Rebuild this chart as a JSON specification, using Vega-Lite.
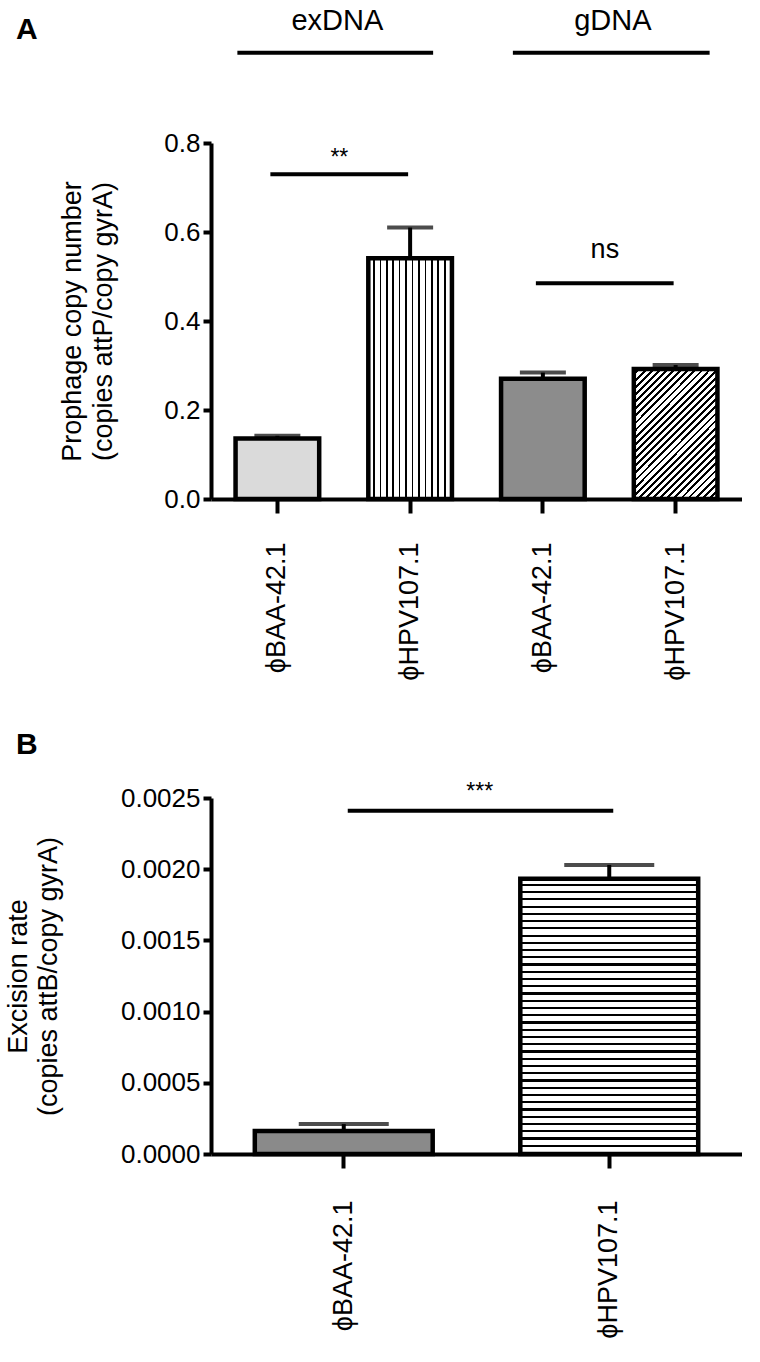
{
  "$schema": "https://vega.github.io/schema/vega-lite/v6.json",
  "background": "white",
  "padding": {"left": 4, "top": 6, "right": 0, "bottom": 0},
  "config": {
    "view": {"stroke": null},
    "font": "Liberation Sans",
    "axis": {"domainColor": "black", "domainWidth": 4, "tickColor": "black", "tickWidth": 4, "grid": false,
      "labelFont": "Liberation Sans", "labelFontSize": 26, "labelColor": "black",
      "titleFont": "Liberation Sans", "titleFontSize": 27, "titleFontWeight": "normal", "titleColor": "black"},
    "title": {"font": "Liberation Sans", "fontSize": 30, "fontWeight": "bold", "color": "black", "anchor": "start", "frame": "group"},
    "text": {"font": "Liberation Sans", "color": "black"}
  },
  "datasets": {
    "a": [
      {"id": "ϕBAA-42.1|ex", "group": "exDNA", "value": 0.136, "upper": 0.142},
      {"id": "ϕHPV107.1|ex", "group": "exDNA", "value": 0.541, "upper": 0.61},
      {"id": "ϕBAA-42.1|g", "group": "gDNA", "value": 0.27, "upper": 0.284},
      {"id": "ϕHPV107.1|g", "group": "gDNA", "value": 0.292, "upper": 0.301}
    ],
    "aSig": [
      {"from": "ϕBAA-42.1|ex", "to": "ϕHPV107.1|ex", "y": 0.73, "ty": 0.75, "label": "**"},
      {"from": "ϕBAA-42.1|g", "to": "ϕHPV107.1|g", "y": 0.485, "ty": 0.542, "label": "ns"}
    ],
    "aGroup": [
      {"from": "ϕBAA-42.1|ex", "to": "ϕHPV107.1|ex", "y": 1.003, "ty": 1.055, "label": "exDNA"},
      {"from": "ϕBAA-42.1|g", "to": "ϕHPV107.1|g", "y": 1.003, "ty": 1.055, "label": "gDNA"}
    ],
    "b": [
      {"id": "ϕBAA-42.1", "value": 0.000161, "upper": 0.00021},
      {"id": "ϕHPV107.1", "value": 0.001933, "upper": 0.00203}
    ],
    "bSig": [
      {"from": "ϕBAA-42.1", "to": "ϕHPV107.1", "y": 0.00241, "ty": 0.00249, "label": "***"}
    ]
  },
  "spacing": 49,
  "vconcat": [
    {
      "width": 531,
      "height": 356,
      "title": {"text": "A", "dx": -195, "dy": 42},
      "layer": [
        {
          "data": {"name": "a"},
          "mark": {"type": "rule", "strokeWidth": 4, "color": "black"},
          "encoding": {
            "x": {"field": "id", "type": "nominal",
              "scale": {"domain": ["ϕBAA-42.1|ex", "ϕHPV107.1|ex", "ϕBAA-42.1|g", "ϕHPV107.1|g"], "paddingInner": 0.37, "paddingOuter": 0.185},
              "axis": {"title": null, "labelAngle": -90, "labelAlign": "right", "labelBaseline": "middle", "labelPadding": 29, "labelFontSize": 27, "tickSize": 14, "labelExpr": "split(datum.value, '|')[0]"}},
            "y": {"field": "value", "type": "quantitative", "scale": {"domain": [0, 0.8]},
              "axis": {"values": [0, 0.2, 0.4, 0.6, 0.8], "format": ".1f", "tickSize": 8, "labelPadding": 3,
                "title": ["Prophage copy number", "(copies attP/copy gyrA)"], "titlePadding": 46, "titleLineHeight": 31}},
            "y2": {"field": "upper"}
          }
        },
        {
          "data": {"name": "a"},
          "mark": {"type": "tick", "size": 46, "thickness": 4, "color": "black"},
          "encoding": {
            "x": {"field": "id", "type": "nominal", "scale": {"domain": ["ϕBAA-42.1|ex", "ϕHPV107.1|ex", "ϕBAA-42.1|g", "ϕHPV107.1|g"]}},
            "y": {"field": "upper", "type": "quantitative", "scale": {"domain": [0, 0.8]}}
          }
        },
        {
          "data": {"name": "a"},
          "transform": [{"filter": "datum.id === 'ϕBAA-42.1|ex'"}],
          "mark": {"type": "bar", "stroke": "black", "strokeWidth": 4.5, "fill": "#dadada"},
          "encoding": {
            "x": {"field": "id", "type": "nominal", "scale": {"domain": ["ϕBAA-42.1|ex", "ϕHPV107.1|ex", "ϕBAA-42.1|g", "ϕHPV107.1|g"]}},
            "y": {"field": "value", "type": "quantitative", "scale": {"domain": [0, 0.8]}}
          }
        },
        {
          "data": {"name": "a"},
          "transform": [{"filter": "datum.id === 'ϕHPV107.1|ex'"}],
          "mark": {"type": "bar", "stroke": "black", "strokeWidth": 4.5,
            "fill": {"gradient": "linear", "x1": 0, "y1": 0, "x2": 1, "y2": 0, "stops": [
              {"offset": 0, "color": "white"},
              {"offset": 0.0577, "color": "white"}, {"offset": 0.0577, "color": "black"}, {"offset": 0.0769, "color": "black"}, {"offset": 0.0769, "color": "white"},
              {"offset": 0.1346, "color": "white"}, {"offset": 0.1346, "color": "black"}, {"offset": 0.1538, "color": "black"}, {"offset": 0.1538, "color": "white"},
              {"offset": 0.2115, "color": "white"}, {"offset": 0.2115, "color": "black"}, {"offset": 0.2308, "color": "black"}, {"offset": 0.2308, "color": "white"},
              {"offset": 0.2885, "color": "white"}, {"offset": 0.2885, "color": "black"}, {"offset": 0.3077, "color": "black"}, {"offset": 0.3077, "color": "white"},
              {"offset": 0.3654, "color": "white"}, {"offset": 0.3654, "color": "black"}, {"offset": 0.3846, "color": "black"}, {"offset": 0.3846, "color": "white"},
              {"offset": 0.4423, "color": "white"}, {"offset": 0.4423, "color": "black"}, {"offset": 0.4615, "color": "black"}, {"offset": 0.4615, "color": "white"},
              {"offset": 0.5192, "color": "white"}, {"offset": 0.5192, "color": "black"}, {"offset": 0.5385, "color": "black"}, {"offset": 0.5385, "color": "white"},
              {"offset": 0.5962, "color": "white"}, {"offset": 0.5962, "color": "black"}, {"offset": 0.6154, "color": "black"}, {"offset": 0.6154, "color": "white"},
              {"offset": 0.6731, "color": "white"}, {"offset": 0.6731, "color": "black"}, {"offset": 0.6923, "color": "black"}, {"offset": 0.6923, "color": "white"},
              {"offset": 0.75, "color": "white"}, {"offset": 0.75, "color": "black"}, {"offset": 0.7692, "color": "black"}, {"offset": 0.7692, "color": "white"},
              {"offset": 0.8269, "color": "white"}, {"offset": 0.8269, "color": "black"}, {"offset": 0.8462, "color": "black"}, {"offset": 0.8462, "color": "white"},
              {"offset": 0.9038, "color": "white"}, {"offset": 0.9038, "color": "black"}, {"offset": 0.9231, "color": "black"}, {"offset": 0.9231, "color": "white"},
              {"offset": 0.9808, "color": "white"}, {"offset": 0.9808, "color": "black"}, {"offset": 1, "color": "black"}
            ]}},
          "encoding": {
            "x": {"field": "id", "type": "nominal", "scale": {"domain": ["ϕBAA-42.1|ex", "ϕHPV107.1|ex", "ϕBAA-42.1|g", "ϕHPV107.1|g"]}},
            "y": {"field": "value", "type": "quantitative", "scale": {"domain": [0, 0.8]}}
          }
        },
        {
          "data": {"name": "a"},
          "transform": [{"filter": "datum.id === 'ϕBAA-42.1|g'"}],
          "mark": {"type": "bar", "stroke": "black", "strokeWidth": 4.5, "fill": "#8c8c8c"},
          "encoding": {
            "x": {"field": "id", "type": "nominal", "scale": {"domain": ["ϕBAA-42.1|ex", "ϕHPV107.1|ex", "ϕBAA-42.1|g", "ϕHPV107.1|g"]}},
            "y": {"field": "value", "type": "quantitative", "scale": {"domain": [0, 0.8]}}
          }
        },
        {
          "data": {"name": "a"},
          "transform": [{"filter": "datum.id === 'ϕHPV107.1|g'"}],
          "mark": {"type": "bar", "stroke": "black", "strokeWidth": 4.5,
            "fill": {"gradient": "linear", "x1": 0, "y1": 0, "x2": 0.75, "y2": 1.161, "stops": [
              {"offset": 0, "color": "white"},
              {"offset": 0.02, "color": "white"}, {"offset": 0.02, "color": "black"}, {"offset": 0.0333, "color": "black"}, {"offset": 0.0333, "color": "white"},
              {"offset": 0.0533, "color": "white"}, {"offset": 0.0533, "color": "black"}, {"offset": 0.0667, "color": "black"}, {"offset": 0.0667, "color": "white"},
              {"offset": 0.0867, "color": "white"}, {"offset": 0.0867, "color": "black"}, {"offset": 0.1, "color": "black"}, {"offset": 0.1, "color": "white"},
              {"offset": 0.12, "color": "white"}, {"offset": 0.12, "color": "black"}, {"offset": 0.1333, "color": "black"}, {"offset": 0.1333, "color": "white"},
              {"offset": 0.1533, "color": "white"}, {"offset": 0.1533, "color": "black"}, {"offset": 0.1667, "color": "black"}, {"offset": 0.1667, "color": "white"},
              {"offset": 0.1867, "color": "white"}, {"offset": 0.1867, "color": "black"}, {"offset": 0.2, "color": "black"}, {"offset": 0.2, "color": "white"},
              {"offset": 0.22, "color": "white"}, {"offset": 0.22, "color": "black"}, {"offset": 0.2333, "color": "black"}, {"offset": 0.2333, "color": "white"},
              {"offset": 0.2533, "color": "white"}, {"offset": 0.2533, "color": "black"}, {"offset": 0.2667, "color": "black"}, {"offset": 0.2667, "color": "white"},
              {"offset": 0.2867, "color": "white"}, {"offset": 0.2867, "color": "black"}, {"offset": 0.3, "color": "black"}, {"offset": 0.3, "color": "white"},
              {"offset": 0.32, "color": "white"}, {"offset": 0.32, "color": "black"}, {"offset": 0.3333, "color": "black"}, {"offset": 0.3333, "color": "white"},
              {"offset": 0.3533, "color": "white"}, {"offset": 0.3533, "color": "black"}, {"offset": 0.3667, "color": "black"}, {"offset": 0.3667, "color": "white"},
              {"offset": 0.3867, "color": "white"}, {"offset": 0.3867, "color": "black"}, {"offset": 0.4, "color": "black"}, {"offset": 0.4, "color": "white"},
              {"offset": 0.42, "color": "white"}, {"offset": 0.42, "color": "black"}, {"offset": 0.4333, "color": "black"}, {"offset": 0.4333, "color": "white"},
              {"offset": 0.4533, "color": "white"}, {"offset": 0.4533, "color": "black"}, {"offset": 0.4667, "color": "black"}, {"offset": 0.4667, "color": "white"},
              {"offset": 0.4867, "color": "white"}, {"offset": 0.4867, "color": "black"}, {"offset": 0.5, "color": "black"}, {"offset": 0.5, "color": "white"},
              {"offset": 0.52, "color": "white"}, {"offset": 0.52, "color": "black"}, {"offset": 0.5333, "color": "black"}, {"offset": 0.5333, "color": "white"},
              {"offset": 0.5533, "color": "white"}, {"offset": 0.5533, "color": "black"}, {"offset": 0.5667, "color": "black"}, {"offset": 0.5667, "color": "white"},
              {"offset": 0.5867, "color": "white"}, {"offset": 0.5867, "color": "black"}, {"offset": 0.6, "color": "black"}, {"offset": 0.6, "color": "white"},
              {"offset": 0.62, "color": "white"}, {"offset": 0.62, "color": "black"}, {"offset": 0.6333, "color": "black"}, {"offset": 0.6333, "color": "white"},
              {"offset": 0.6533, "color": "white"}, {"offset": 0.6533, "color": "black"}, {"offset": 0.6667, "color": "black"}, {"offset": 0.6667, "color": "white"},
              {"offset": 0.6867, "color": "white"}, {"offset": 0.6867, "color": "black"}, {"offset": 0.7, "color": "black"}, {"offset": 0.7, "color": "white"},
              {"offset": 0.72, "color": "white"}, {"offset": 0.72, "color": "black"}, {"offset": 0.7333, "color": "black"}, {"offset": 0.7333, "color": "white"},
              {"offset": 0.7533, "color": "white"}, {"offset": 0.7533, "color": "black"}, {"offset": 0.7667, "color": "black"}, {"offset": 0.7667, "color": "white"},
              {"offset": 0.7867, "color": "white"}, {"offset": 0.7867, "color": "black"}, {"offset": 0.8, "color": "black"}, {"offset": 0.8, "color": "white"},
              {"offset": 0.82, "color": "white"}, {"offset": 0.82, "color": "black"}, {"offset": 0.8333, "color": "black"}, {"offset": 0.8333, "color": "white"},
              {"offset": 0.8533, "color": "white"}, {"offset": 0.8533, "color": "black"}, {"offset": 0.8667, "color": "black"}, {"offset": 0.8667, "color": "white"},
              {"offset": 0.8867, "color": "white"}, {"offset": 0.8867, "color": "black"}, {"offset": 0.9, "color": "black"}, {"offset": 0.9, "color": "white"},
              {"offset": 0.92, "color": "white"}, {"offset": 0.92, "color": "black"}, {"offset": 0.9333, "color": "black"}, {"offset": 0.9333, "color": "white"},
              {"offset": 0.9533, "color": "white"}, {"offset": 0.9533, "color": "black"}, {"offset": 0.9667, "color": "black"}, {"offset": 0.9667, "color": "white"},
              {"offset": 0.9867, "color": "white"}, {"offset": 0.9867, "color": "black"}, {"offset": 1, "color": "black"}
            ]}},
          "encoding": {
            "x": {"field": "id", "type": "nominal", "scale": {"domain": ["ϕBAA-42.1|ex", "ϕHPV107.1|ex", "ϕBAA-42.1|g", "ϕHPV107.1|g"]}},
            "y": {"field": "value", "type": "quantitative", "scale": {"domain": [0, 0.8]}}
          }
        },
        {
          "data": {"name": "aSig"},
          "mark": {"type": "rule", "strokeWidth": 4, "color": "black", "xOffset": -7, "x2Offset": -2},
          "encoding": {
            "x": {"field": "from", "type": "nominal", "scale": {"domain": ["ϕBAA-42.1|ex", "ϕHPV107.1|ex", "ϕBAA-42.1|g", "ϕHPV107.1|g"]}},
            "x2": {"field": "to"},
            "y": {"field": "y", "type": "quantitative", "scale": {"domain": [0, 0.8]}}
          }
        },
        {
          "data": {"name": "aSig"},
          "mark": {"type": "text", "xOffset": 62, "baseline": "alphabetic", "align": "center"},
          "encoding": {
            "x": {"field": "from", "type": "nominal", "scale": {"domain": ["ϕBAA-42.1|ex", "ϕHPV107.1|ex", "ϕBAA-42.1|g", "ϕHPV107.1|g"]}},
            "y": {"field": "ty", "type": "quantitative", "scale": {"domain": [0, 0.8]}},
            "text": {"field": "label"},
            "size": {"condition": {"test": "datum.label === 'ns'", "value": 27}, "value": 23}
          }
        },
        {
          "data": {"name": "aGroup"},
          "transform": [{"filter": "datum.label === 'exDNA'"}],
          "mark": {"type": "rule", "strokeWidth": 4, "color": "black", "xOffset": -40, "x2Offset": 23},
          "encoding": {
            "x": {"field": "from", "type": "nominal", "scale": {"domain": ["ϕBAA-42.1|ex", "ϕHPV107.1|ex", "ϕBAA-42.1|g", "ϕHPV107.1|g"]}},
            "x2": {"field": "to"},
            "y": {"field": "y", "type": "quantitative", "scale": {"domain": [0, 0.8]}}
          }
        },
        {
          "data": {"name": "aGroup"},
          "transform": [{"filter": "datum.label === 'gDNA'"}],
          "mark": {"type": "rule", "strokeWidth": 4, "color": "black", "xOffset": -30, "x2Offset": 34},
          "encoding": {
            "x": {"field": "from", "type": "nominal", "scale": {"domain": ["ϕBAA-42.1|ex", "ϕHPV107.1|ex", "ϕBAA-42.1|g", "ϕHPV107.1|g"]}},
            "x2": {"field": "to"},
            "y": {"field": "y", "type": "quantitative", "scale": {"domain": [0, 0.8]}}
          }
        },
        {
          "data": {"name": "aGroup"},
          "transform": [{"filter": "datum.label === 'exDNA'"}],
          "mark": {"type": "text", "xOffset": 60, "baseline": "alphabetic", "align": "center", "fontSize": 29},
          "encoding": {
            "x": {"field": "from", "type": "nominal", "scale": {"domain": ["ϕBAA-42.1|ex", "ϕHPV107.1|ex", "ϕBAA-42.1|g", "ϕHPV107.1|g"]}},
            "y": {"field": "ty", "type": "quantitative", "scale": {"domain": [0, 0.8]}},
            "text": {"field": "label"}
          }
        },
        {
          "data": {"name": "aGroup"},
          "transform": [{"filter": "datum.label === 'gDNA'"}],
          "mark": {"type": "text", "xOffset": 70, "baseline": "alphabetic", "align": "center", "fontSize": 29},
          "encoding": {
            "x": {"field": "from", "type": "nominal", "scale": {"domain": ["ϕBAA-42.1|ex", "ϕHPV107.1|ex", "ϕBAA-42.1|g", "ϕHPV107.1|g"]}},
            "y": {"field": "ty", "type": "quantitative", "scale": {"domain": [0, 0.8]}},
            "text": {"field": "label"}
          }
        }
      ]
    },
    {
      "width": 531,
      "height": 356,
      "title": {"text": "B", "dx": -195, "dy": -17},
      "layer": [
        {
          "data": {"name": "b"},
          "mark": {"type": "rule", "strokeWidth": 4, "color": "black"},
          "encoding": {
            "x": {"field": "id", "type": "nominal",
              "scale": {"domain": ["ϕBAA-42.1", "ϕHPV107.1"], "paddingInner": 0.33, "paddingOuter": 0.165},
              "axis": {"title": null, "labelAngle": -90, "labelAlign": "right", "labelBaseline": "middle", "labelPadding": 32, "labelFontSize": 27, "tickSize": 14}},
            "y": {"field": "value", "type": "quantitative", "scale": {"domain": [0, 0.0025]},
              "axis": {"values": [0, 0.0005, 0.001, 0.0015, 0.002, 0.0025], "format": ".4f", "tickSize": 8, "labelPadding": 3,
                "title": ["Excision rate", "(copies attB/copy gyrA)"], "titlePadding": 58, "titleLineHeight": 30}},
            "y2": {"field": "upper"}
          }
        },
        {
          "data": {"name": "b"},
          "mark": {"type": "tick", "size": 90, "thickness": 4, "color": "black"},
          "encoding": {
            "x": {"field": "id", "type": "nominal", "scale": {"domain": ["ϕBAA-42.1", "ϕHPV107.1"]}},
            "y": {"field": "upper", "type": "quantitative", "scale": {"domain": [0, 0.0025]}}
          }
        },
        {
          "data": {"name": "b"},
          "transform": [{"filter": "datum.id === 'ϕBAA-42.1'"}],
          "mark": {"type": "bar", "stroke": "black", "strokeWidth": 4.5, "fill": "#8a8a8a"},
          "encoding": {
            "x": {"field": "id", "type": "nominal", "scale": {"domain": ["ϕBAA-42.1", "ϕHPV107.1"]}},
            "y": {"field": "value", "type": "quantitative", "scale": {"domain": [0, 0.0025]}}
          }
        },
        {
          "data": {"name": "b"},
          "transform": [{"filter": "datum.id === 'ϕHPV107.1'"}],
          "mark": {"type": "bar", "stroke": "black", "strokeWidth": 4.5,
            "fill": {"gradient": "linear", "x1": 0, "y1": 0, "x2": 0, "y2": 1, "stops": [
              {"offset": 0, "color": "white"},
              {"offset": 0.0184, "color": "white"}, {"offset": 0.0184, "color": "black"}, {"offset": 0.0263, "color": "black"}, {"offset": 0.0263, "color": "white"},
              {"offset": 0.0447, "color": "white"}, {"offset": 0.0447, "color": "black"}, {"offset": 0.0526, "color": "black"}, {"offset": 0.0526, "color": "white"},
              {"offset": 0.0711, "color": "white"}, {"offset": 0.0711, "color": "black"}, {"offset": 0.0789, "color": "black"}, {"offset": 0.0789, "color": "white"},
              {"offset": 0.0974, "color": "white"}, {"offset": 0.0974, "color": "black"}, {"offset": 0.1053, "color": "black"}, {"offset": 0.1053, "color": "white"},
              {"offset": 0.1237, "color": "white"}, {"offset": 0.1237, "color": "black"}, {"offset": 0.1316, "color": "black"}, {"offset": 0.1316, "color": "white"},
              {"offset": 0.15, "color": "white"}, {"offset": 0.15, "color": "black"}, {"offset": 0.1579, "color": "black"}, {"offset": 0.1579, "color": "white"},
              {"offset": 0.1763, "color": "white"}, {"offset": 0.1763, "color": "black"}, {"offset": 0.1842, "color": "black"}, {"offset": 0.1842, "color": "white"},
              {"offset": 0.2026, "color": "white"}, {"offset": 0.2026, "color": "black"}, {"offset": 0.2105, "color": "black"}, {"offset": 0.2105, "color": "white"},
              {"offset": 0.2289, "color": "white"}, {"offset": 0.2289, "color": "black"}, {"offset": 0.2368, "color": "black"}, {"offset": 0.2368, "color": "white"},
              {"offset": 0.2553, "color": "white"}, {"offset": 0.2553, "color": "black"}, {"offset": 0.2632, "color": "black"}, {"offset": 0.2632, "color": "white"},
              {"offset": 0.2816, "color": "white"}, {"offset": 0.2816, "color": "black"}, {"offset": 0.2895, "color": "black"}, {"offset": 0.2895, "color": "white"},
              {"offset": 0.3079, "color": "white"}, {"offset": 0.3079, "color": "black"}, {"offset": 0.3158, "color": "black"}, {"offset": 0.3158, "color": "white"},
              {"offset": 0.3342, "color": "white"}, {"offset": 0.3342, "color": "black"}, {"offset": 0.3421, "color": "black"}, {"offset": 0.3421, "color": "white"},
              {"offset": 0.3605, "color": "white"}, {"offset": 0.3605, "color": "black"}, {"offset": 0.3684, "color": "black"}, {"offset": 0.3684, "color": "white"},
              {"offset": 0.3868, "color": "white"}, {"offset": 0.3868, "color": "black"}, {"offset": 0.3947, "color": "black"}, {"offset": 0.3947, "color": "white"},
              {"offset": 0.4132, "color": "white"}, {"offset": 0.4132, "color": "black"}, {"offset": 0.4211, "color": "black"}, {"offset": 0.4211, "color": "white"},
              {"offset": 0.4395, "color": "white"}, {"offset": 0.4395, "color": "black"}, {"offset": 0.4474, "color": "black"}, {"offset": 0.4474, "color": "white"},
              {"offset": 0.4658, "color": "white"}, {"offset": 0.4658, "color": "black"}, {"offset": 0.4737, "color": "black"}, {"offset": 0.4737, "color": "white"},
              {"offset": 0.4921, "color": "white"}, {"offset": 0.4921, "color": "black"}, {"offset": 0.5, "color": "black"}, {"offset": 0.5, "color": "white"},
              {"offset": 0.5184, "color": "white"}, {"offset": 0.5184, "color": "black"}, {"offset": 0.5263, "color": "black"}, {"offset": 0.5263, "color": "white"},
              {"offset": 0.5447, "color": "white"}, {"offset": 0.5447, "color": "black"}, {"offset": 0.5526, "color": "black"}, {"offset": 0.5526, "color": "white"},
              {"offset": 0.5711, "color": "white"}, {"offset": 0.5711, "color": "black"}, {"offset": 0.5789, "color": "black"}, {"offset": 0.5789, "color": "white"},
              {"offset": 0.5974, "color": "white"}, {"offset": 0.5974, "color": "black"}, {"offset": 0.6053, "color": "black"}, {"offset": 0.6053, "color": "white"},
              {"offset": 0.6237, "color": "white"}, {"offset": 0.6237, "color": "black"}, {"offset": 0.6316, "color": "black"}, {"offset": 0.6316, "color": "white"},
              {"offset": 0.65, "color": "white"}, {"offset": 0.65, "color": "black"}, {"offset": 0.6579, "color": "black"}, {"offset": 0.6579, "color": "white"},
              {"offset": 0.6763, "color": "white"}, {"offset": 0.6763, "color": "black"}, {"offset": 0.6842, "color": "black"}, {"offset": 0.6842, "color": "white"},
              {"offset": 0.7026, "color": "white"}, {"offset": 0.7026, "color": "black"}, {"offset": 0.7105, "color": "black"}, {"offset": 0.7105, "color": "white"},
              {"offset": 0.7289, "color": "white"}, {"offset": 0.7289, "color": "black"}, {"offset": 0.7368, "color": "black"}, {"offset": 0.7368, "color": "white"},
              {"offset": 0.7553, "color": "white"}, {"offset": 0.7553, "color": "black"}, {"offset": 0.7632, "color": "black"}, {"offset": 0.7632, "color": "white"},
              {"offset": 0.7816, "color": "white"}, {"offset": 0.7816, "color": "black"}, {"offset": 0.7895, "color": "black"}, {"offset": 0.7895, "color": "white"},
              {"offset": 0.8079, "color": "white"}, {"offset": 0.8079, "color": "black"}, {"offset": 0.8158, "color": "black"}, {"offset": 0.8158, "color": "white"},
              {"offset": 0.8342, "color": "white"}, {"offset": 0.8342, "color": "black"}, {"offset": 0.8421, "color": "black"}, {"offset": 0.8421, "color": "white"},
              {"offset": 0.8605, "color": "white"}, {"offset": 0.8605, "color": "black"}, {"offset": 0.8684, "color": "black"}, {"offset": 0.8684, "color": "white"},
              {"offset": 0.8868, "color": "white"}, {"offset": 0.8868, "color": "black"}, {"offset": 0.8947, "color": "black"}, {"offset": 0.8947, "color": "white"},
              {"offset": 0.9132, "color": "white"}, {"offset": 0.9132, "color": "black"}, {"offset": 0.9211, "color": "black"}, {"offset": 0.9211, "color": "white"},
              {"offset": 0.9395, "color": "white"}, {"offset": 0.9395, "color": "black"}, {"offset": 0.9474, "color": "black"}, {"offset": 0.9474, "color": "white"},
              {"offset": 0.9658, "color": "white"}, {"offset": 0.9658, "color": "black"}, {"offset": 0.9737, "color": "black"}, {"offset": 0.9737, "color": "white"},
              {"offset": 0.9921, "color": "white"}, {"offset": 0.9921, "color": "black"}, {"offset": 1, "color": "black"}
            ]}},
          "encoding": {
            "x": {"field": "id", "type": "nominal", "scale": {"domain": ["ϕBAA-42.1", "ϕHPV107.1"]}},
            "y": {"field": "value", "type": "quantitative", "scale": {"domain": [0, 0.0025]}}
          }
        },
        {
          "data": {"name": "bSig"},
          "mark": {"type": "rule", "strokeWidth": 4, "color": "black", "xOffset": 4, "x2Offset": 4},
          "encoding": {
            "x": {"field": "from", "type": "nominal", "scale": {"domain": ["ϕBAA-42.1", "ϕHPV107.1"]}},
            "x2": {"field": "to"},
            "y": {"field": "y", "type": "quantitative", "scale": {"domain": [0, 0.0025]}}
          }
        },
        {
          "data": {"name": "bSig"},
          "mark": {"type": "text", "xOffset": 136, "baseline": "alphabetic", "align": "center", "fontSize": 23},
          "encoding": {
            "x": {"field": "from", "type": "nominal", "scale": {"domain": ["ϕBAA-42.1", "ϕHPV107.1"]}},
            "y": {"field": "ty", "type": "quantitative", "scale": {"domain": [0, 0.0025]}},
            "text": {"field": "label"}
          }
        }
      ]
    }
  ]
}
